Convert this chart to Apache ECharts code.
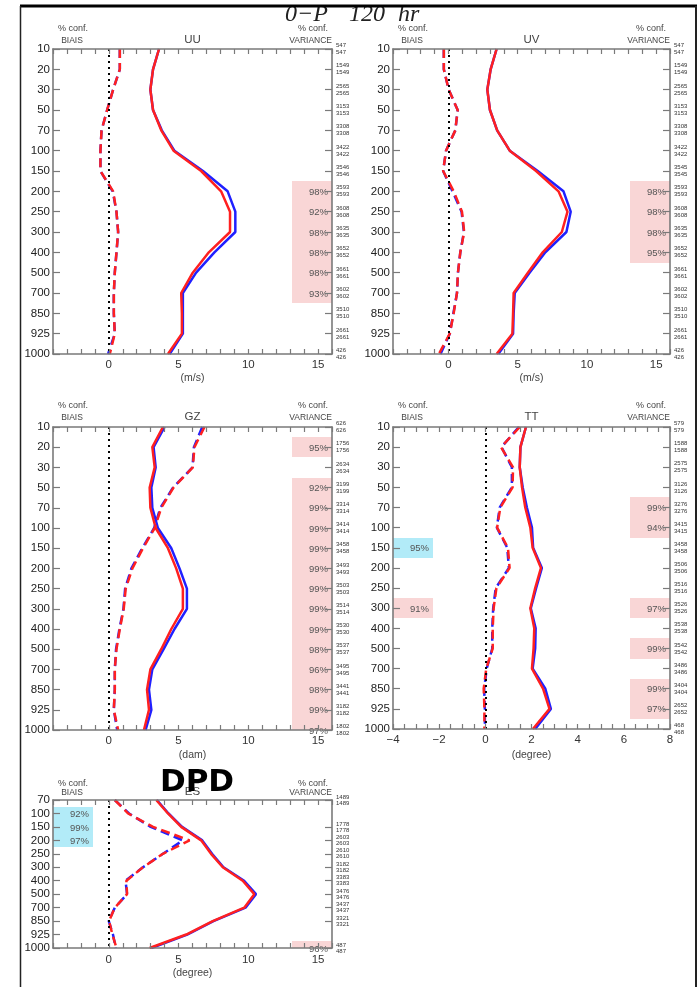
<!DOCTYPE html>
<html><head><meta charset="utf-8">
<script src="https://cdn.jsdelivr.net/npm/echarts@6/dist/echarts.min.js"></script>
<style>html,body{margin:0;padding:0;background:#fff}#c{width:698px;height:987px}</style>
</head><body><div id="c"></div>
<script>
// ---------- DATA ----------
const levels = ['10','20','30','50','70','100','150','200','250','300','400','500','700','850','925','1000'];
const levelsDPD = ['70','100','150','200','250','300','400','500','700','850','925','1000'];

const uuStdBlue  = [3.6,3.17,2.98,3.17,3.8,4.7,6.75,8.52,9.07,9.07,7.57,6.26,5.31,5.31,5.31,4.36];
const uuStdRed   = [3.6,3.17,2.98,3.17,3.76,4.64,6.62,8.05,8.69,8.69,7.17,6.02,5.19,5.24,5.24,4.24];
const uuBiasBlue = [0.79,0.79,0.31,-0.12,-0.52,-0.6,-0.6,0.28,0.55,0.67,0.55,0.43,0.36,0.36,0.43,-0.05];
const uuBiasRed  = [0.79,0.79,0.31,-0.12,-0.52,-0.6,-0.6,0.31,0.55,0.67,0.55,0.43,0.36,0.36,0.43,0.07];
const uuCounts   = [547,1549,2565,3153,3308,3422,3546,3593,3608,3635,3652,3661,3602,3510,2661,426];
const uuVarConf  = ['','','','','','','','98%','92%','98%','98%','98%','93%','','',''];

const uvStdBlue  = [3.48,3.05,2.81,3.0,3.52,4.43,6.45,8.31,8.83,8.52,7.0,5.86,4.79,4.71,4.67,3.6];
const uvStdRed   = [3.48,3.05,2.81,3.0,3.52,4.43,6.33,7.95,8.6,8.19,6.81,5.74,4.71,4.67,4.62,3.48];
const uvBiasBlue = [-0.33,-0.33,0.02,0.67,0.5,-0.17,-0.38,0.3,0.95,1.12,0.86,0.69,0.62,0.36,0.1,-0.57];
const uvBiasRed  = [-0.33,-0.33,0.02,0.67,0.5,-0.17,-0.38,0.38,0.98,1.14,0.86,0.69,0.62,0.38,0.1,-0.69];
const uvCounts   = [547,1549,2565,3153,3308,3422,3545,3593,3608,3635,3652,3661,3602,3510,2661,426];
const uvVarConf  = ['','','','','','','','98%','98%','98%','95%','','','','',''];

const gzStdBlue  = [4.0,3.21,3.36,3.05,3.12,3.52,4.48,5.07,5.6,5.6,4.71,3.93,3.12,2.88,3.05,2.64];
const gzStdRed   = [3.88,3.12,3.29,2.93,2.98,3.36,4.24,4.83,5.31,5.31,4.48,3.76,2.98,2.74,2.88,2.52];
const gzBiasBlue = [6.7,6.1,6.0,4.6,3.7,3.25,2.4,1.62,1.17,1.05,0.76,0.52,0.43,0.43,0.36,0.6];
const gzBiasRed  = [6.86,6.14,6.02,4.64,3.76,3.29,2.45,1.69,1.21,1.07,0.79,0.55,0.43,0.43,0.36,0.67];
const gzCounts   = [626,1756,2634,3199,3314,3414,3458,3493,3503,3514,3530,3537,3495,3441,3182,1802];
const gzVarConf  = ['','95%','','92%','99%','99%','99%','99%','99%','99%','99%','98%','96%','98%','99%','97%'];

const ttStdBlue  = [1.76,1.52,1.49,1.62,1.8,2.02,2.07,2.45,2.2,1.97,2.18,2.16,2.05,2.6,2.84,2.16];
const ttStdRed   = [1.76,1.52,1.49,1.59,1.73,1.95,2.05,2.41,2.16,1.95,2.12,2.09,2.02,2.5,2.78,2.06];
const ttBiasBlue = [1.45,0.7,1.15,1.15,0.62,0.5,0.95,1.02,0.45,0.34,0.3,0.3,0.06,-0.05,-0.02,-0.02];
const ttBiasRed  = [1.49,0.68,1.2,1.18,0.65,0.51,0.98,1.05,0.48,0.36,0.32,0.32,0.04,-0.07,-0.04,-0.04];
const ttCounts   = [579,1588,2575,3126,3276,3415,3458,3506,3516,3526,3538,3542,3486,3404,2652,468];
const ttVarConf  = ['','','','','99%','94%','','','','97%','','99%','','99%','97%',''];
const ttBiasConf = ['','','','','','','95%','','','91%','','','','','',''];
const ttBiasKind = ['','','','','','','c','','','p','','','','','',''];

const dpdStdBlue  = [3.45,4.28,5.25,6.7,7.4,8.22,9.7,10.55,9.8,7.5,5.62,3.05];
const dpdStdRed   = [3.4,4.24,5.19,6.62,7.33,8.17,9.6,10.43,9.71,7.45,5.55,2.93];
const dpdBiasBlue = [0.43,1.45,3.0,5.31,3.88,2.45,1.2,1.31,0.43,0.0,0.3,0.5];
const dpdBiasRed  = [0.43,1.38,3.17,5.79,3.88,2.45,1.26,1.31,0.43,0.02,0.26,0.55];
const dpdCounts   = [1489,1530,1778,2603,2610,3182,3383,3476,3437,3321,2611,487];
const dpdVarConf  = ['','','','','','','','','','','','96%'];
const dpdBiasConf = ['','92%','99%','97%','','','','','','','',''];
const dpdBiasKind = ['','c','c','c','','','','','','','',''];

// ---------- BUILD ----------
const FONT = '"Liberation Sans", Arial, sans-serif';
const PINK = '#f9d6d6', CYAN = '#b2ebf8', RED = '#ff2020', BLUE = '#2020ff', AX = '#7a7a7a';
const grids = [], xAxes = [], yAxes = [], series = [], graphics = [];

function fmt5(v){ return (Math.abs(v % 5) < 1e-9 && v >= 0 && v <= 15) ? String(v) : ''; }
function fmt2(v){ if (Math.abs(v % 2) > 1e-9) return ''; return v < 0 ? '\u2212' + (-v) : String(v); }

function txt(x, y, text, size, opt){
  opt = opt || {};
  graphics.push({type:'text', x:x, y:y, z:100, silent:true, style:{
    text:text, fill:opt.fill || '#333',
    font:(opt.style||'') + ' ' + (opt.weight||'normal') + ' ' + size + 'px ' + (opt.family || FONT),
    textAlign:opt.align || 'center', textVerticalAlign:opt.valign || 'middle',
    align:opt.align || 'center', verticalAlign:opt.valign || 'middle'
  }});
}

function addPanel(p){
  const g = grids.length;
  const n = p.levels.length - 1;
  grids.push({left:p.left, top:p.top, width:p.width, height:p.height, containLabel:false, outerBoundsMode:'none'});
  const axisLine = {show:true, onZero:false, lineStyle:{color:AX, width:1.6}};
  const xTick = {show:true, inside:true, length:5, lineStyle:{color:AX, width:1.2}};
  const yTick = {show:true, inside:true, length:7, lineStyle:{color:AX, width:1.2}};
  xAxes.push({gridIndex:g, type:'value', position:'bottom', min:p.xmin, max:p.xmax, interval:p.xint, z:5,
    axisLine:axisLine, axisTick:xTick, splitLine:{show:false},
    axisLabel:{show:true, margin:p.xmargin || 5, fontSize:11.5, fontFamily:FONT, color:'#333', formatter:p.xfmt,
      showMinLabel:true, showMaxLabel:true, hideOverlap:false}});
  xAxes.push({gridIndex:g, type:'value', position:'top', min:p.xmin, max:p.xmax, interval:p.xint, z:5,
    axisLine:axisLine, axisTick:xTick, splitLine:{show:false}, axisLabel:{show:false}});
  yAxes.push({gridIndex:g, type:'value', position:'left', inverse:true, min:0, max:n, interval:1, z:5,
    axisLine:axisLine, axisTick:yTick, splitLine:{show:false},
    axisLabel:{margin:3, fontSize:11.5, fontFamily:FONT, color:'#222', showMinLabel:true, showMaxLabel:true, hideOverlap:false,
      formatter:v => p.levels[Math.round(v)]}});
  yAxes.push({gridIndex:g, type:'value', position:'right', inverse:true, min:0, max:n, interval:1, z:5,
    axisLine:axisLine, axisTick:yTick, splitLine:{show:false},
    axisLabel:{margin:4, fontSize:6, lineHeight:p.cntLH || 7, fontFamily:FONT, color:'#333', align:'left',
      padding:[0,0,6,0], showMinLabel:true, showMaxLabel:true, hideOverlap:false,
      formatter:v => { const c = p.counts[Math.round(v)]; return c + '\n' + c; }}});

  // significance shading
  const w = (p.xmax - p.xmin) / 7;
  const items = [];
  p.varConf.forEach((t,i) => { if (t) items.push({x0:p.xmax - w, x1:p.xmax, i:i, t:t, c:PINK}); });
  if (p.biasConf) p.biasConf.forEach((t,i) => { if (t) items.push({x0:p.xmin, x1:p.xmin + w, i:i, t:t, c:p.biasKind[i] === 'c' ? CYAN : PINK}); });
  series.push({type:'custom', xAxisIndex:2*g, yAxisIndex:2*g, z:1, silent:true, animation:false,
    data:items.map(d => [d.x0, d.x1, d.i]),
    renderItem:(params, api) => {
      const d = items[params.dataIndex];
      const a = api.coord([d.x0, Math.max(d.i - 0.5, 0)]);
      const b = api.coord([d.x1, Math.min(d.i + 0.5, n)]);
      const yc = api.coord([d.x1, d.i])[1];
      const x0 = Math.round(a[0]), x1 = Math.round(b[0]), y0 = Math.round(a[1]), y1 = Math.round(b[1]);
      return {type:'group', children:[
        {type:'rect', shape:{x:x0, y:y0, width:x1 - x0, height:y1 - y0}, style:{fill:d.c}},
        {type:'text', x:x1 - 4, y:yc + 1, style:{text:d.t, textAlign:'right', textVerticalAlign:'middle',
          align:'right', verticalAlign:'middle', font:'9.5px ' + FONT, fill:'#555'}}
      ]};
    }});

  const line = (vals, color, dashed, extra) => Object.assign({type:'line', xAxisIndex:2*g, yAxisIndex:2*g,
    data:vals.map((v,i) => [v, i]), symbol:'none', showSymbol:false, silent:true, z:3, animation:false,
    lineStyle:{color:color, width:2.5, type:dashed ? [9,5] : 'solid'}}, extra || {});
  series.push(line(p.stdBlue, BLUE, false, {markLine:{silent:true, symbol:['none','none'], animation:false,
    label:{show:false}, lineStyle:{color:'#000', type:[2,4], width:2}, data:[{xAxis:0}]}}));
  series.push(line(p.stdRed, RED, false));
  series.push(line(p.biasBlue, BLUE, true));
  series.push(line(p.biasRed, RED, true));

  // labels around the panel
  const L = p.left, R = p.left + p.width, T = p.top, B = p.top + p.height, C = (L + R) / 2;
  const o = p.labOff || {conf:20, sub:8, unit:24};
  txt(C, T - o.sub - 1, p.title, 11.5, {fill:'#444'});
  txt(L + 20, T - o.conf, '% conf.', 9, {fill:'#444'});
  txt(L + 19, T - o.sub, 'BIAIS', 8.5, {fill:'#444'});
  txt(R - 19, T - o.conf, '% conf.', 9, {fill:'#444'});
  txt(R, T - o.sub, 'VARIANCE', 8.5, {fill:'#444', align:'right'});
  txt(C, B + o.unit, p.unit, 10.5, {fill:'#444'});
}

addPanel({left:53, top:49, width:279, height:305, xmin:-4, xmax:16, xint:1, xfmt:fmt5, levels:levels,
  counts:uuCounts, stdBlue:uuStdBlue, stdRed:uuStdRed, biasBlue:uuBiasBlue, biasRed:uuBiasRed,
  varConf:uuVarConf, title:'UU', unit:'(m/s)'});
addPanel({left:393, top:49, width:277, height:305, xmin:-4, xmax:16, xint:1, xfmt:fmt5, levels:levels,
  counts:uvCounts, stdBlue:uvStdBlue, stdRed:uvStdRed, biasBlue:uvBiasBlue, biasRed:uvBiasRed,
  varConf:uvVarConf, title:'UV', unit:'(m/s)'});
addPanel({left:53, top:427, width:279, height:303, xmin:-4, xmax:16, xint:1, xfmt:fmt5, levels:levels,
  counts:gzCounts, stdBlue:gzStdBlue, stdRed:gzStdRed, biasBlue:gzBiasBlue, biasRed:gzBiasRed,
  varConf:gzVarConf, title:'GZ', unit:'(dam)', labOff:{conf:21, sub:9, unit:25}});
addPanel({left:393, top:427, width:277, height:302, xmin:-4, xmax:8, xint:0.5, xfmt:fmt2, levels:levels,
  counts:ttCounts, stdBlue:ttStdBlue, stdRed:ttStdRed, biasBlue:ttBiasBlue, biasRed:ttBiasRed,
  varConf:ttVarConf, biasConf:ttBiasConf, biasKind:ttBiasKind, title:'TT', unit:'(degree)', labOff:{conf:21, sub:9, unit:26}});
addPanel({left:53, top:800, width:279, height:148, xmin:-4, xmax:16, xint:1, xfmt:fmt5, levels:levelsDPD,
  counts:dpdCounts, stdBlue:dpdStdBlue, stdRed:dpdStdRed, biasBlue:dpdBiasBlue, biasRed:dpdBiasRed,
  varConf:dpdVarConf, biasConf:dpdBiasConf, biasKind:dpdBiasKind, title:'ES', unit:'(degree)', cntLH:6,
  xmargin:6, labOff:{conf:16, sub:7, unit:25}});

// overlay title and frame
txt(197, 783, 'DPD', 31, {fill:'#000', weight:'bold', family:'"DejaVu Sans", sans-serif'});
txt(285, 15, '0\u2212P', 24, {fill:'#222', style:'italic', family:'"Liberation Serif", serif', align:'left'});
txt(349, 15, '120', 24, {fill:'#222', style:'italic', family:'"Liberation Serif", serif', align:'left'});
txt(398, 15, 'hr', 24, {fill:'#222', style:'italic', family:'"Liberation Serif", serif', align:'left'});
graphics.push({type:'line', z:100, silent:true, shape:{x1:20, y1:6, x2:697, y2:6}, style:{stroke:'#000', lineWidth:3}});
graphics.push({type:'line', z:100, silent:true, shape:{x1:20.5, y1:6, x2:20.5, y2:987}, style:{stroke:'#222', lineWidth:1.5}});
graphics.push({type:'line', z:100, silent:true, shape:{x1:696, y1:6, x2:696, y2:987}, style:{stroke:'#222', lineWidth:2}});

const chart = echarts.init(document.getElementById('c'), null, {renderer:'canvas', width:698, height:987});
chart.setOption({
  animation:false, backgroundColor:'#fff',
  grid:grids, xAxis:xAxes, yAxis:yAxes, series:series, graphic:graphics
});
</script></body></html>
